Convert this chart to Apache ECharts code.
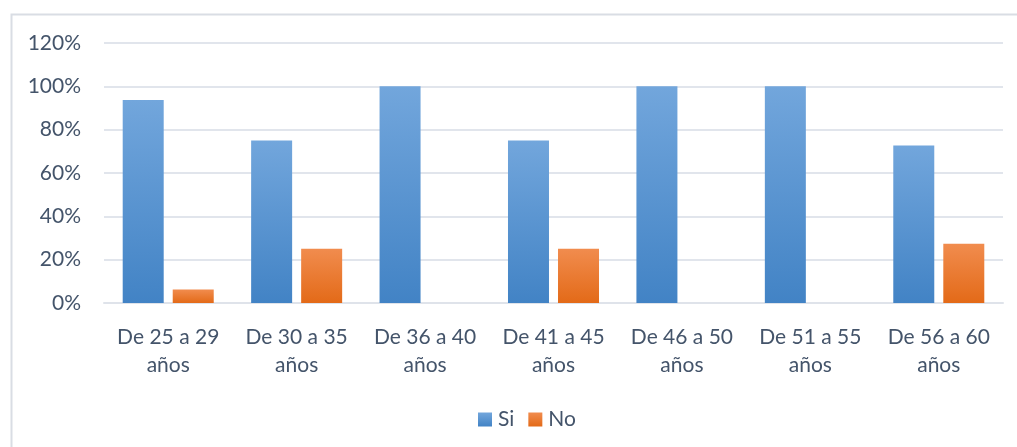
<!DOCTYPE html>
<html>
<head>
<meta charset="utf-8">
<script src="https://cdn.jsdelivr.net/npm/echarts@6/dist/echarts.min.js"></script>
<style>
  html, body { margin: 0; padding: 0; background: #ffffff; }
  #chart { width: 1017px; height: 447px; }
</style>
</head>
<body>
<div id="chart"></div>
<script>
// Age groups and the share answering "Si" / "No"
const categories = [
  'De 25 a 29\naños', 'De 30 a 35\naños', 'De 36 a 40\naños', 'De 41 a 45\naños',
  'De 46 a 50\naños', 'De 51 a 55\naños', 'De 56 a 60\naños'
];
const siValues = [0.9375, 0.75, 1.0, 0.75, 1.0, 1.0, 0.727];
const noValues = [0.0625, 0.25, 0.0, 0.25, 0.0, 0.0, 0.273];
const seriesNames = ['Si', 'No'];

const FONT = 'Lato, "Open Sans", sans-serif';
const TEXT = '#44546a';

function vGrad(top, bottom) {
  return new echarts.graphic.LinearGradient(0, 0, 0, 1, [
    { offset: 0, color: top },
    { offset: 1, color: bottom }
  ]);
}

const chart = echarts.init(document.getElementById('chart'), null, { renderer: 'canvas' });
chart.setOption({
  animation: false,
  backgroundColor: '#ffffff',
  graphic: [{
    type: 'rect',
    shape: { x: 11.5, y: 14.5, width: 1030, height: 460 },
    style: { fill: 'none', stroke: '#d9dde4', lineWidth: 2 },
    silent: true,
    z: -10
  }],
  grid: { left: 104, right: 14, top: 43, bottom: 144, containLabel: false },
  legend: {
    data: seriesNames,
    bottom: 12,
    left: 473,
    itemWidth: 14,
    itemHeight: 14,
    itemGap: 14,
    icon: 'rect',
    textStyle: { color: TEXT, fontFamily: FONT, fontSize: 21, padding: [0, 0, 0, 1] }
  },
  xAxis: {
    type: 'category',
    data: categories,
    axisTick: { show: false },
    axisLine: { lineStyle: { color: '#dfe3ea', width: 2 } },
    axisLabel: {
      color: TEXT, fontFamily: FONT, fontSize: 21, lineHeight: 28, margin: 20,
      interval: 0
    }
  },
  yAxis: {
    type: 'value',
    min: 0, max: 1.2, interval: 0.2,
    axisLine: { show: false },
    axisTick: { show: false },
    splitLine: { lineStyle: { color: '#e1e5ec', width: 2 } },
    axisLabel: {
      color: TEXT, fontFamily: FONT, fontSize: 21, margin: 23,
      formatter: v => Math.round(v * 100) + '%'
    }
  },
  series: [
    {
      name: seriesNames[0], type: 'bar', data: siValues,
      barWidth: 41, barGap: '22%',
      itemStyle: { color: vGrad('#72a6dc', '#4283c5') }
    },
    {
      name: seriesNames[1], type: 'bar', data: noValues,
      barWidth: 41,
      itemStyle: { color: vGrad('#f18c4e', '#e36a18') }
    }
  ]
});
</script>
</body>
</html>
